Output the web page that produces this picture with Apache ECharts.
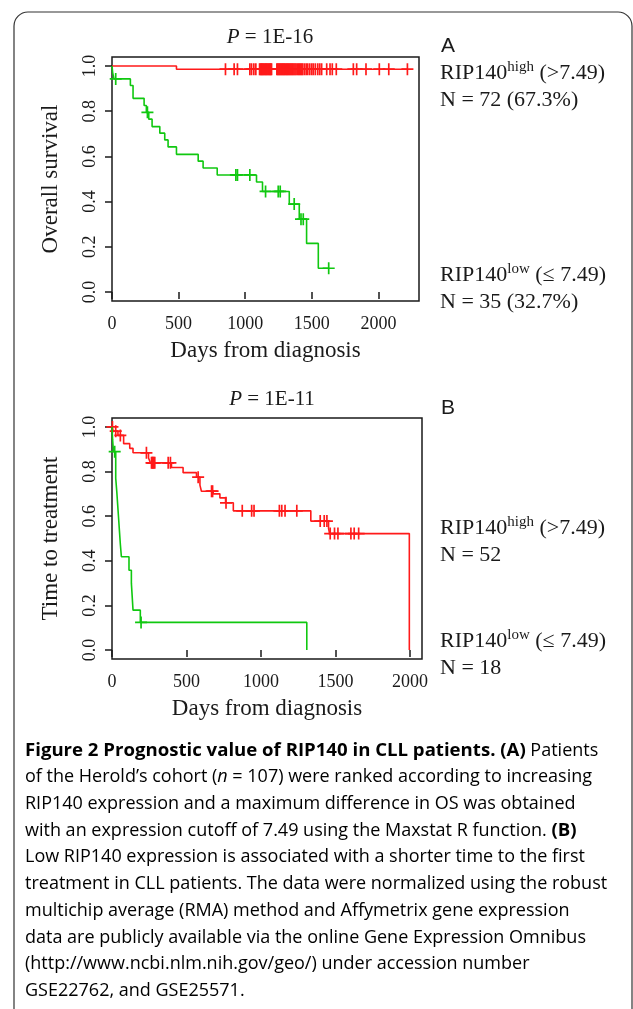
<!DOCTYPE html>
<html>
<head>
<meta charset="utf-8">
<script src="https://cdn.jsdelivr.net/npm/echarts@6/dist/echarts.min.js"></script>
<style>
  html, body { margin: 0; padding: 0; background: #fff; }
  #chart { width: 633px; height: 1009px; }
</style>
</head>
<body>
<div id="chart"></div>
<script>
// tick values
const dayTicks = [0, 500, 1000, 1500, 2000];
const probTicks = [0, 0.2, 0.4, 0.6, 0.8, 1.0];

// panel A - overall survival, [day, survival]
const redA = [[0, 1], [484, 0.986], [2218, 0.986]];
const redACens = [852, 917, 942, 1035, 1048, 1065, 1080, 1108, 1114, 1120, 1126, 1131, 1137, 1143, 1150, 1156,
  1162, 1168, 1175, 1181, 1187, 1193, 1198, 1238, 1244, 1251, 1257, 1264, 1270, 1277, 1283, 1290, 1296, 1303,
  1310, 1316, 1323, 1330, 1337, 1344, 1351, 1358, 1366, 1374, 1382, 1392, 1400, 1408, 1416, 1424, 1432, 1445,
  1458, 1470, 1485, 1500, 1512, 1527, 1545, 1560, 1574, 1612, 1637, 1654, 1684, 1812, 1837, 1907, 2007, 2078, 2218];
const greenA = [[0, 1], [5, 0.971], [15, 0.943], [138, 0.914], [158, 0.857], [241, 0.825], [258, 0.795],
  [276, 0.765], [301, 0.732], [359, 0.703], [396, 0.673], [421, 0.642], [484, 0.609], [647, 0.579],
  [684, 0.549], [790, 0.518], [1085, 0.487], [1130, 0.445], [1331, 0.389], [1406, 0.322], [1461, 0.215],
  [1549, 0.105], [1627, 0.105]];
const greenACens = [[28, 0.943], [266, 0.795], [930, 0.518], [942, 0.518], [1035, 0.518], [1153, 0.445],
  [1248, 0.445], [1263, 0.445], [1368, 0.389], [1419, 0.322], [1436, 0.322], [1627, 0.105]];

// panel B - time to treatment
const redB = [[0, 1], [8, 0.981], [40, 0.962], [78, 0.925], [119, 0.904], [141, 0.884], [245, 0.861],
  [258, 0.839], [399, 0.818], [477, 0.795], [567, 0.775], [590, 0.739], [600, 0.712], [679, 0.700],
  [724, 0.682], [762, 0.660], [814, 0.624], [1334, 0.578], [1453, 0.545], [1460, 0.522], [1995, 0]];
const redBCens = [[3, 1], [25, 0.981], [56, 0.962], [231, 0.884], [265, 0.839], [270, 0.839], [275, 0.839],
  [280, 0.839], [287, 0.839], [377, 0.839], [392, 0.839], [578, 0.775], [668, 0.712], [675, 0.712],
  [765, 0.660], [874, 0.624], [937, 0.624], [953, 0.624], [1123, 0.624], [1139, 0.624], [1161, 0.624],
  [1240, 0.624], [1397, 0.578], [1424, 0.578], [1442, 0.578], [1464, 0.522], [1493, 0.522], [1516, 0.522],
  [1603, 0.522], [1625, 0.522], [1655, 0.522]];
const greenB = [[0, 1], [4, 0.944], [10, 0.889], [25, 0.77], [32, 0.711], [38, 0.652], [44, 0.593],
  [50, 0.533], [56, 0.474], [63, 0.418], [114, 0.358], [130, 0.30], [141, 0.179], [190, 0.124], [1307, 0]];
const greenBCens = [[18, 0.889], [195, 0.124]];

const RED = '#ff1a1a';
const GREEN = '#10c810';
const INK = '#1a1a1a';
const SERIF = '"Liberation Serif", "DejaVu Serif", serif';
const PLUS = 'path://M4.3,0 H5.7 V4.3 H10 V5.7 H5.7 V10 H4.3 V5.7 H0 V4.3 H4.3 Z';

const chart = echarts.init(document.getElementById('chart'), null, { renderer: 'canvas' });

function xAxis (gi, max) {
  return {
    type: 'value', gridIndex: gi, min: 0, max: max,
    axisLine: { show: false },
    splitLine: { show: false },
    axisTick: { show: true, length: 7, customValues: dayTicks, lineStyle: { color: INK, width: 1.5 } },
    axisLabel: {
      customValues: dayTicks, margin: 14, fontFamily: SERIF, fontSize: 18, color: INK,
      formatter: v => String(v)
    },
    name: 'Days from diagnosis', nameLocation: 'middle', nameGap: 38,
    nameTextStyle: { fontFamily: SERIF, fontSize: 23, color: INK }
  }
}

function yAxis (gi, name) {
  return {
    type: 'value', gridIndex: gi, min: -0.04, max: 1.04,
    axisLine: { show: false },
    splitLine: { show: false },
    axisTick: { show: true, length: 7, customValues: probTicks, lineStyle: { color: INK, width: 1.5 } },
    axisLabel: {
      customValues: probTicks, rotate: 90, margin: 13, fontFamily: SERIF, fontSize: 18, color: INK,
      formatter: v => v.toFixed(1)
    },
    name: name, nameLocation: 'middle', nameGap: 50, nameRotate: 90,
    nameTextStyle: { fontFamily: SERIF, fontSize: 23, color: INK }
  }
}

function km (gi, data, color) {
  return {
    type: 'line', xAxisIndex: gi, yAxisIndex: gi, data: data, step: 'end',
    showSymbol: false, silent: true, animation: false,
    lineStyle: { color: color, width: 1.6 }
  }
}

function marks (gi, data, color) {
  return {
    type: 'scatter', xAxisIndex: gi, yAxisIndex: gi, data: data, symbol: PLUS, symbolSize: 12,
    silent: true, animation: false, itemStyle: { color: color, opacity: 1 }
  }
}

const supStyle = { fontFamily: SERIF, fontSize: 15, color: INK, verticalAlign: 'top', lineHeight: 16 };
const baseStyle = { fontFamily: SERIF, fontSize: 22, color: INK, lineHeight: 27 };

function sideText (x, y, text) {
  return {
    type: 'text', left: x, top: y,
    style: { text: text, rich: { t: baseStyle, s: supStyle }, fill: INK }
  }
}

const capFont = '"Open Sans", Lato, sans-serif';
const capText = [
  '{b|Figure 2 Prognostic value of RIP140 in CLL patients. (A)}{r| Patients}',
  '{r|of the Herold\u2019s cohort (}{i|n}{r| = 107) were ranked according to increasing}',
  '{r|RIP140 expression and a maximum difference in OS was obtained}',
  '{r|with an expression cutoff of 7.49 using the Maxstat R function. }{b|(B)}',
  '{r|Low RIP140 expression is associated with a shorter time to the first}',
  '{r|treatment in CLL patients. The data were normalized using the robust}',
  '{r|multichip average (RMA) method and Affymetrix gene expression}',
  '{r|data are publicly available via the online Gene Expression Omnibus}',
  '{r|(http://www.ncbi.nlm.nih.gov/geo/) under accession number}',
  '{r|GSE22762, and GSE25571.}'
].join('\n');
const capSize = 18;
const capBold = 18.6;

const option = {
  backgroundColor: '#fff',
  animation: false,
  title: [
    {
      text: '{i|P} = 1E-16', left: 265, top: 22, textAlign: 'center',
      textStyle: { rich: { i: { fontFamily: SERIF, fontSize: 21, fontStyle: 'italic', color: INK } }, fontFamily: SERIF, fontSize: 21, fontWeight: 'normal', color: INK }
    },
    {
      text: '{i|P} = 1E-11', left: 267, top: 384, textAlign: 'center',
      textStyle: { rich: { i: { fontFamily: SERIF, fontSize: 21, fontStyle: 'italic', color: INK } }, fontFamily: SERIF, fontSize: 21, fontWeight: 'normal', color: INK }
    }
  ],
  grid: [
    { left: 112, top: 57, width: 307, height: 244, show: true, borderColor: INK, borderWidth: 1.5, backgroundColor: 'transparent' },
    { left: 112, top: 418, width: 310, height: 241, show: true, borderColor: INK, borderWidth: 1.5, backgroundColor: 'transparent' }
  ],
  xAxis: [xAxis(0, 2305), xAxis(1, 2080)],
  yAxis: [yAxis(0, 'Overall survival'), yAxis(1, 'Time to treatment')],
  series: [
    km(0, redA, RED),
    km(0, greenA, GREEN),
    marks(0, redACens.map(d => [d, 0.986]), RED),
    marks(0, greenACens, GREEN),
    km(1, redB, RED),
    km(1, greenB, GREEN),
    marks(1, redBCens, RED),
    marks(1, greenBCens, GREEN)
  ],
  graphic: [
    {
      type: 'rect', silent: true,
      shape: { x: 14, y: 12, width: 618, height: 1100, r: 14 },
      style: { fill: 'none', stroke: '#333', lineWidth: 1.2 }
    },
    { type: 'text', left: 441, top: 36, style: { text: 'A', font: '21px "Liberation Sans", Arial, sans-serif', fill: INK } },
    { type: 'text', left: 441, top: 398, style: { text: 'B', font: '21px "Liberation Sans", Arial, sans-serif', fill: INK } },
    sideText(440, 60, '{t|RIP140}{s|high}{t| (>7.49)}\n{t|N = 72 (67.3%)}'),
    sideText(440, 262, '{t|RIP140}{s|low}{t| (\u2264 7.49)}\n{t|N = 35 (32.7%)}'),
    sideText(440, 515, '{t|RIP140}{s|high}{t| (>7.49)}\n{t|N = 52}'),
    sideText(440, 628, '{t|RIP140}{s|low}{t| (\u2264 7.49)}\n{t|N = 18}'),
    {
      type: 'text', left: 25, top: 741,
      style: {
        text: capText,
        rich: {
          b: { fontFamily: capFont, fontSize: capBold, fontWeight: 'bold', color: '#222', lineHeight: 26.7 },
          r: { fontFamily: capFont, fontSize: capSize, color: '#333', lineHeight: 26.7 },
          i: { fontFamily: capFont, fontSize: capSize, fontStyle: 'italic', color: '#333', lineHeight: 26.7 }
        }
      }
    }
  ]
};

chart.setOption(option);
</script>
</body>
</html>
